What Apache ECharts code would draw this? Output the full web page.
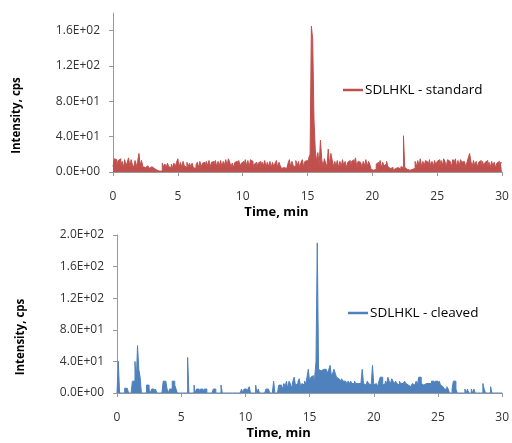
<!DOCTYPE html>
<html><head><meta charset="utf-8">
<script src="https://cdn.jsdelivr.net/npm/echarts@6/dist/echarts.min.js"></script>
<style>html,body{margin:0;padding:0;background:#fff}#c{width:512px;height:443px}</style>
</head><body><div id="c"></div>
<script>
// sampling of the chromatograms (minutes)
const timeStart = 0;
const timeStep = 0.1;

// SDLHKL - standard, intensity (cps), one row per minute
const standardValues = [
  6, 15, 14, 7, 13, 15, 6, 12, 5, 14,
  7, 11, 16, 6, 14, 8, 5, 13, 6, 12,
  21, 8, 13, 6, 5, 4, 7, 5, 4, 6,
  5, 4, 6, 2, 1, 1, 2, 1, 10, 6,
  9, 5, 10, 6, 5, 9, 5, 10, 6, 11,
  15, 6, 11, 5, 12, 7, 5, 11, 6, 10,
  6, 10, 5, 4, 8, 11, 5, 12, 6, 10,
  11, 5, 12, 7, 13, 6, 11, 12, 5, 13,
  6, 12, 7, 13, 6, 12, 8, 14, 7, 15,
  11, 6, 10, 5, 11, 12, 6, 13, 7, 10,
  12, 6, 14, 7, 13, 5, 14, 12, 6, 9,
  11, 5, 10, 12, 6, 11, 7, 13, 5, 11,
  6, 12, 5, 11, 6, 10, 13, 5, 11, 7,
  4, 5, 3, 4, 6, 10, 14, 6, 12, 7,
  6, 13, 7, 12, 5, 11, 14, 6, 12, 13,
  7, 16, 20, 165, 150, 60, 25, 12, 22, 8,
  36, 14, 6, 15, 10, 6, 26, 8, 21, 14,
  6, 12, 7, 13, 5, 12, 6, 14, 7, 12,
  5, 11, 13, 6, 12, 14, 7, 16, 6, 12,
  11, 13, 5, 12, 7, 14, 6, 12, 9, 3,
  2, 4, 3, 9, 11, 6, 13, 5, 11, 7,
  9, 12, 6, 4, 3, 5, 2, 4, 3, 5,
  4, 3, 6, 5, 41, 5, 3, 4, 2, 4,
  3, 5, 4, 12, 6, 13, 7, 15, 6, 12,
  7, 13, 11, 5, 14, 7, 12, 6, 13, 8,
  12, 14, 6, 13, 7, 15, 12, 6, 14, 12,
  13, 6, 14, 12, 15, 6, 13, 7, 14, 11,
  12, 14, 6, 11, 16, 21, 12, 6, 13, 7,
  12, 6, 11, 13, 5, 12, 7, 11, 13, 6,
  11, 5, 12, 7, 11, 5, 10, 12, 6, 11,
  10
];

// SDLHKL - cleaved, intensity (cps), one row per minute
const cleavedValues = [
  0, 40, 0, 0, 0, 0, 6, 6, 6, 0,
  0, 0, 15, 15, 40, 15, 60, 30, 20, 0,
  0, 0, 0, 10, 10, 5, 0, 5, 5, 0,
  5, 0, 0, 0, 0, 0, 15, 15, 15, 5,
  0, 5, 5, 15, 15, 10, 5, 0, 0, 0,
  0, 0, 0, 0, 0, 45, 0, 0, 0, 0,
  10, 0, 5, 5, 0, 5, 5, 0, 5, 5,
  0, 0, 0, 0, 0, 5, 5, 0, 0, 0,
  0, 10, 0, 0, 0, 0, 0, 0, 0, 0,
  0, 0, 0, 0, 0, 0, 0, 5, 0, 5,
  5, 0, 5, 8, 0, 0, 0, 0, 10, 0,
  5, 0, 0, 0, 0, 0, 5, 5, 5, 0,
  0, 0, 15, 0, 0, 0, 10, 10, 12, 5,
  12, 8, 15, 5, 15, 12, 6, 15, 20, 10,
  12, 15, 18, 8, 12, 10, 15, 12, 20, 30,
  15, 20, 22, 10, 20, 40, 190, 30, 28, 30,
  30, 28, 30, 30, 25, 30, 35, 22, 25, 30,
  25, 20, 18, 20, 15, 18, 15, 15, 15, 12,
  15, 12, 15, 12, 12, 15, 12, 12, 10, 12,
  12, 30, 12, 10, 12, 15, 12, 10, 12, 35,
  10, 12, 10, 8, 15, 20, 20, 10, 12, 15,
  12, 20, 15, 12, 18, 15, 12, 15, 12, 10,
  15, 12, 12, 10, 15, 12, 10, 12, 8, 10,
  12, 10, 12, 15, 10, 20, 20, 12, 10, 12,
  12, 10, 12, 10, 12, 15, 15, 12, 15, 15,
  12, 15, 10, 8, 8, 5, 5, 8, 5, 0,
  0, 5, 15, 15, 5, 0, 0, 0, 0, 0,
  0, 5, 0, 5, 0, 0, 5, 0, 5, 0,
  0, 0, 0, 0, 0, 12, 5, 0, 0, 0,
  0, 8, 0, 0, 0, 0, 0, 0, 0, 0,
  0
];

const seriesNames = ['SDLHKL - standard', 'SDLHKL - cleaved'];
const xTicks = [0, 5, 10, 15, 20, 25, 30];
const topYTicks = [0, 40, 80, 120, 160];
const bottomYTicks = [0, 40, 80, 120, 160, 200];
const xTitle = 'Time, min';
const yTitle = 'Intensity, cps';

const colors = ['#C0504D', '#4F81BD'];
const FONT = '"Open Sans", "Noto Sans", sans-serif';

function toPairs(vals) {
  return vals.map((v, i) => [+(timeStart + i * timeStep).toFixed(2), v]);
}
function sci(v) {
  const s = Number(v).toExponential(1);
  const parts = s.split('e');
  const e = parseInt(parts[1], 10);
  const d = Math.abs(e);
  return parts[0] + 'E' + (e < 0 ? '-' : '+') + (d < 10 ? '0' : '') + d;
}

const axisLineStyle = { color: '#9a9a9a', width: 1 };

function makeX(gi) {
  return {
    type: 'value', gridIndex: gi, min: 0, max: 30, interval: 5,
    name: xTitle, nameLocation: 'middle', nameGap: 34,
    nameTextStyle: { fontFamily: FONT, fontSize: 13, fontWeight: 'bold', color: '#000', padding: [0, 62, 0, 0] },
    axisLine: { show: true, onZero: false, lineStyle: axisLineStyle },
    axisTick: { show: true, length: 4, inside: false, lineStyle: axisLineStyle, customValues: xTicks },
    axisLabel: { fontFamily: FONT, fontSize: 12, color: '#333', margin: 19, customValues: xTicks },
    splitLine: { show: false }
  };
}
function makeY(gi, max, ticks) {
  return {
    type: 'value', gridIndex: gi, min: 0, max: max, interval: 40,
    name: yTitle, nameLocation: 'middle', nameGap: 90,
    nameTextStyle: { fontFamily: FONT, fontSize: 11.5, fontWeight: 'bold', color: '#000', padding: [0, 46, 0, 0] },
    axisLine: { show: true, lineStyle: axisLineStyle },
    axisTick: { show: true, length: 4, inside: false, lineStyle: axisLineStyle, customValues: ticks },
    axisLabel: { fontFamily: FONT, fontSize: 12, color: '#333', margin: 13, formatter: sci, customValues: ticks },
    splitLine: { show: false }
  };
}
function makeSeries(name, vals, gi, color) {
  return {
    name: name, type: 'line', xAxisIndex: gi, yAxisIndex: gi,
    data: toPairs(vals), step: 'end', showSymbol: false, symbol: 'none',
    lineStyle: { color: color, width: 1 },
    itemStyle: { color: color },
    areaStyle: { color: color, opacity: 1 },
    animation: false
  };
}

const chart = echarts.init(document.getElementById('c'), null, { renderer: 'canvas' });
chart.setOption({
  backgroundColor: '#fff',
  animation: false,
  grid: [
    { left: 113, right: 10, top: 13, height: 159, containLabel: false },
    { left: 117, right: 9, top: 235, height: 158, containLabel: false }
  ],
  xAxis: [makeX(0), makeX(1)],
  yAxis: [makeY(0, 180, topYTicks), makeY(1, 200, bottomYTicks)],
  legend: [
    { data: [seriesNames[0]], left: 343, top: 83, padding: 0, icon: 'rect', itemWidth: 20, itemHeight: 2.5, itemGap: 4,
      textStyle: { fontFamily: FONT, fontSize: 13.5, color: '#000', padding: [0, 0, 0, -3] } },
    { data: [seriesNames[1]], left: 348, top: 306, padding: 0, icon: 'rect', itemWidth: 20, itemHeight: 2.5, itemGap: 4,
      textStyle: { fontFamily: FONT, fontSize: 13.5, color: '#000', padding: [0, 0, 0, -3] } }
  ],
  series: [
    makeSeries(seriesNames[0], standardValues, 0, colors[0]),
    makeSeries(seriesNames[1], cleavedValues, 1, colors[1])
  ]
});
</script></body></html>
